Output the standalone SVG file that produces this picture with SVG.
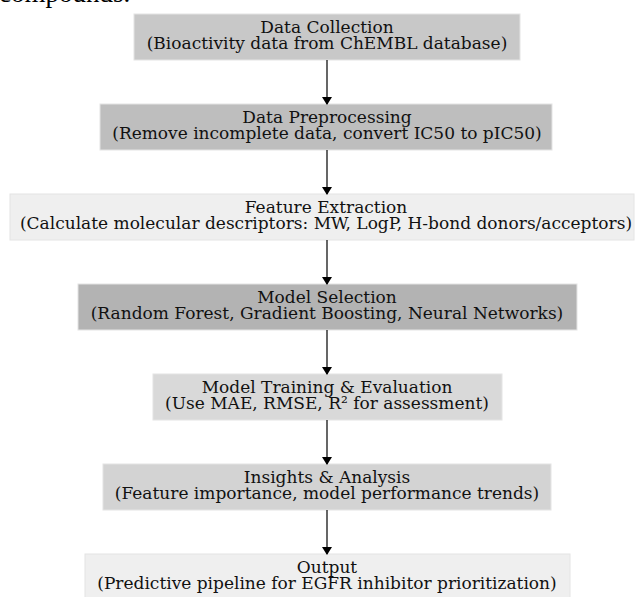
<svg xmlns="http://www.w3.org/2000/svg" width="638" height="597" viewBox="0 0 638 597">
<defs>
<style>
.box{stroke:#e4e4e4;stroke-width:1}
.t{font-family:"DejaVu Serif",serif;font-size:17px;fill:#111;text-anchor:middle}
.e{stroke:#000;stroke-width:1.2;fill:none}
</style>
<marker id="ah" markerWidth="8" markerHeight="10" refX="7" refY="5" orient="auto" markerUnits="userSpaceOnUse" viewBox="0 0 8 10">
<path d="M0,0 L8,5 L0,10 z" fill="#000"/>
</marker>
</defs>
<rect width="638" height="597" fill="#fff"/>
<text x="-1" y="2" style="font-family:'Liberation Serif',serif;font-size:27px">compounds.</text>
<g id="n1"><rect class="box" x="134" y="14" width="386" height="46" fill="#c8c8c8"/><text class="t" x="327" y="33">Data Collection</text><text class="t" x="327" y="49">(Bioactivity data from ChEMBL database)</text></g>
<g id="n2"><rect class="box" x="100" y="104" width="452" height="46" fill="#bebebe"/><text class="t" x="327" y="123">Data Preprocessing</text><text class="t" x="327" y="139">(Remove incomplete data, convert IC50 to pIC50)</text></g>
<g id="n3"><rect class="box" x="10" y="194" width="624" height="46" fill="#efefef"/><text class="t" x="326" y="213">Feature Extraction</text><text class="t" x="326" y="229">(Calculate molecular descriptors: MW, LogP, H-bond donors/acceptors)</text></g>
<g id="n4"><rect class="box" x="78" y="284" width="499" height="46" fill="#b3b3b3"/><text class="t" x="327" y="303">Model Selection</text><text class="t" x="327" y="319">(Random Forest, Gradient Boosting, Neural Networks)</text></g>
<g id="n5"><rect class="box" x="153" y="374" width="349" height="46" fill="#d9d9d9"/><text class="t" x="327" y="393">Model Training &amp; Evaluation</text><text class="t" x="327" y="409">(Use MAE, RMSE, R² for assessment)</text></g>
<g id="n6"><rect class="box" x="103" y="464" width="448" height="46" fill="#d3d3d3"/><text class="t" x="327" y="483">Insights &amp; Analysis</text><text class="t" x="327" y="499">(Feature importance, model performance trends)</text></g>
<g id="n7"><rect class="box" x="85" y="554" width="485" height="46" fill="#efefef"/><text class="t" x="327" y="573">Output</text><text class="t" x="327" y="589">(Predictive pipeline for EGFR inhibitor prioritization)</text></g>
<g id="edges">
<line class="e" x1="327" y1="60" x2="327" y2="104" marker-end="url(#ah)"/>
<line class="e" x1="327" y1="150" x2="327" y2="194" marker-end="url(#ah)"/>
<line class="e" x1="327" y1="240" x2="327" y2="284" marker-end="url(#ah)"/>
<line class="e" x1="327" y1="330" x2="327" y2="374" marker-end="url(#ah)"/>
<line class="e" x1="327" y1="420" x2="327" y2="464" marker-end="url(#ah)"/>
<line class="e" x1="327" y1="510" x2="327" y2="554" marker-end="url(#ah)"/>
</g>
</svg>
